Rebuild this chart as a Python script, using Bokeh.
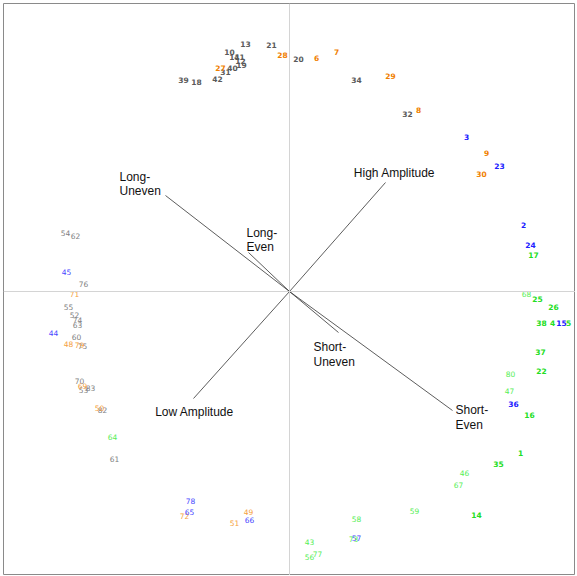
from bokeh.plotting import figure
from bokeh.models import ColumnDataSource, Span, Range1d
from bokeh.embed import file_html
from bokeh.resources import INLINE
from bokeh.core.properties import value

# ---- point data (biplot coordinates) ----
gray_ids = [13, 21, 10, 11, 41, 12, 19, 40, 31, 20, 34, 32, 39, 18, 42,
            54, 62, 76, 55, 52, 74, 63, 60, 75, 70, 53, 83, 82, 61]
gray_x = [-0.44, -0.18, -0.60, -0.55, -0.50, -0.49, -0.48, -0.57, -0.64, 0.09, 0.67, 1.18, -1.06, -0.93, -0.72,
          -2.24, -2.14, -2.06, -2.21, -2.15, -2.12, -2.12, -2.13, -2.07, -2.10, -2.06, -1.99, -1.87, -1.75]
gray_y = [2.48, 2.47, 2.40, 2.35, 2.35, 2.31, 2.27, 2.24, 2.20, 2.33, 2.12, 1.78, 2.12, 2.10, 2.13,
          0.59, 0.56, 0.08, -0.15, -0.23, -0.28, -0.33, -0.45, -0.54, -0.89, -0.98, -0.96, -1.18, -1.67]

orange_ids = [28, 6, 7, 29, 8, 9, 30, 27, 71, 48, 79, 69, 50, 72, 49, 51]
orange_x = [-0.07, 0.27, 0.47, 1.01, 1.29, 1.97, 1.92, -0.69, -2.15, -2.21, -2.10, -2.07, -1.90, -1.05, -0.41, -0.55]
orange_y = [2.37, 2.34, 2.40, 2.16, 1.82, 1.39, 1.18, 2.24, -0.02, -0.52, -0.53, -0.94, -1.16, -2.24, -2.20, -2.31]

blue_ids = [3, 23, 2, 24, 15, 36, 45, 44, 78, 65, 66, 57]
blue_x = [1.77, 2.10, 2.34, 2.41, 2.72, 2.24, -2.23, -2.36, -0.99, -1.00, -0.40, 0.67]
blue_y = [1.55, 1.26, 0.67, 0.47, -0.31, -1.12, 0.20, -0.41, -2.09, -2.20, -2.28, -2.46]

green_ids = [17, 25, 26, 38, 4, 5, 37, 22, 16, 1, 35, 14,
             68, 80, 47, 46, 67, 59, 58, 43, 56, 77, 64, 73]
green_x = [2.44, 2.48, 2.64, 2.52, 2.63, 2.79, 2.51, 2.52, 2.40, 2.31, 2.09, 1.87,
           2.37, 2.21, 2.20, 1.75, 1.69, 1.25, 0.67, 0.20, 0.20, 0.28, -1.77, 0.64]
green_y = [0.37, -0.07, -0.15, -0.31, -0.31, -0.31, -0.60, -0.79, -1.23, -1.61, -1.72, -2.23,
           -0.02, -0.82, -0.99, -1.81, -1.93, -2.19, -2.27, -2.50, -2.65, -2.62, -1.45, -2.47]

# ---- variable vectors ----
vec_names = ["High Amplitude", "Low Amplitude", "Long-Uneven", "Long-Even", "Short-Uneven", "Short-Even"]
vec_x = [0.96, -0.96, -1.24, -0.41, 0.49, 1.63]
vec_y = [1.09, -1.07, 0.96, 0.39, -0.41, -1.19]

p = figure(width=572, height=572, output_backend="svg", toolbar_location=None,
           x_range=Range1d(-2.86, 2.86), y_range=Range1d(-2.84, 2.88),
           min_border=0, min_border_left=0, min_border_right=0, min_border_top=0, min_border_bottom=0)
p.styles = {"margin-left": "3px", "margin-top": "3px", "margin-bottom": "-10px"}
p.xaxis.visible = False
p.yaxis.visible = False
p.xgrid.visible = False
p.ygrid.visible = False
p.outline_line_color = "#8a8a8a"
p.outline_line_width = 1
p.background_fill_color = "white"

p.add_layout(Span(location=0, dimension="width", line_color="#d4d4d4", line_width=1))
p.add_layout(Span(location=0, dimension="height", line_color="#d4d4d4", line_width=1))

# vectors
p.segment(x0=[0] * len(vec_x), y0=[0] * len(vec_y), x1=vec_x, y1=vec_y,
          line_color="#333333", line_width=0.8)

# vector labels (split into lines)
lab_text, lab_x, lab_y, lab_dx, lab_dy, lab_align = [], [], [], [], [], []
offsets = {
    "High Amplitude": ([(9, -10)], "center"),
    "Low Amplitude": ([(1, 13)], "center"),
    "Long-Uneven": ([(-46, -19), (-46, -5)], "left"),
    "Long-Even": ([(-2, -20), (-2, -6)], "left"),
    "Short-Uneven": ([(-25, 14), (-25, 29)], "left"),
    "Short-Even": ([(3, -1), (3, 14)], "left"),
}
for name, vx, vy in zip(vec_names, vec_x, vec_y):
    offs, al = offsets[name]
    if "-" in name:
        a, b = name.split("-")
        parts = [a + "-", b]
    else:
        parts = [name]
    for t, (dx, dy) in zip(parts, offs):
        lab_text.append(t); lab_x.append(vx); lab_y.append(vy)
        lab_dx.append(dx); lab_dy.append(dy); lab_align.append(al)

for al in ["left", "center"]:
    idx = [i for i, a in enumerate(lab_align) if a == al]
    src = ColumnDataSource(dict(x=[lab_x[i] for i in idx], y=[lab_y[i] for i in idx],
                                t=[lab_text[i] for i in idx],
                                dx=[lab_dx[i] for i in idx], dy=[lab_dy[i] for i in idx]))
    p.text(x="x", y="y", text="t", x_offset="dx", y_offset="dy", source=src,
           text_font=value("Liberation Sans"), text_font_size="12px",
           text_color="#111111", text_align=al, text_baseline="middle")

# points as number labels
groups = [
    (gray_ids, gray_x, gray_y, "#5a5a5a", "#808080"),
    (orange_ids, orange_x, orange_y, "#f08000", "#f5a040"),
    (blue_ids, blue_x, blue_y, "#2020ff", "#4848ff"),
    (green_ids, green_x, green_y, "#22dd22", "#55ee55"),
]
for ids, xs, ys, c_bold, c_thin in groups:
    for bold in (True, False):
        sel = [i for i, k in enumerate(ids) if (k <= 42) == bold]
        if not sel:
            continue
        src = ColumnDataSource(dict(x=[xs[i] for i in sel], y=[ys[i] for i in sel],
                                    t=[str(ids[i]) for i in sel]))
        p.text(x="x", y="y", text="t", source=src,
               text_font=value("DejaVu Sans"), text_font_size="7.5px",
               text_font_style="bold" if bold else "normal",
               text_color=c_bold if bold else c_thin,
               text_align="center", text_baseline="middle")

open("out.html", "w").write(file_html(p, INLINE))
